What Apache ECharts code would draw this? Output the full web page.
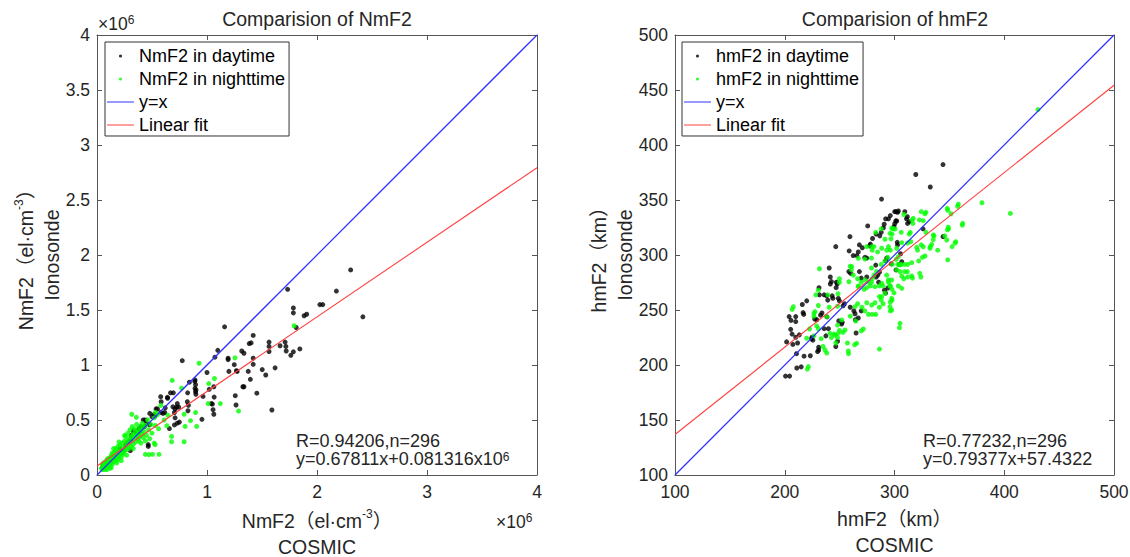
<!DOCTYPE html>
<html>
<head>
<meta charset="utf-8">
<script src="https://cdn.jsdelivr.net/npm/echarts@6/dist/echarts.min.js"></script>
<style>
  html, body { margin: 0; padding: 0; background: #fff; }
  #chart { width: 1130px; height: 557px; }
</style>
</head>
<body>
<div id="chart"></div>
<script>
// ---------------- DATA ----------------
// Left panel: NmF2 in units of 10^6 el/cm^3 (COSMIC x, Ionosonde y)
const nmTicksX = [0, 1, 2, 3, 4];
const nmTicksY = [0, 0.5, 1, 1.5, 2, 2.5, 3, 3.5, 4];
const nmDay = [
  [2.306,1.864],[2.176,1.672],[2.417,1.438],[1.733,1.688],[2.026,1.549],[2.052,1.549],[1.785,1.519],[1.785,1.474],
  [1.883,1.448],[1.906,1.461],[1.811,1.341],[1.160,1.347],[1.420,1.269],[1.384,1.195],[1.401,1.201],[1.564,1.208],
  [1.564,1.169],[1.564,1.123],[1.664,1.175],[1.710,1.208],[1.717,1.169],[1.720,1.127],[1.762,1.088],[1.785,1.120],
  [1.844,1.146],[1.316,1.127],[1.336,1.107],[1.420,1.062],[1.420,1.006],[1.192,1.062],[1.192,1.049],[1.098,1.133],
  [1.072,1.071],[1.248,1.003],[1.267,0.948],[1.274,0.942],[1.199,0.942],[1.375,0.942],[1.502,0.958],[1.619,0.974],
  [1.534,0.909],[1.394,0.870],[1.326,0.802],[1.336,0.802],[1.453,0.744],[1.590,0.591],[1.257,0.721],[1.264,0.636],
  [1.062,0.802],[1.020,0.779],[1.065,0.708],[1.039,0.649],[1.049,0.645],[1.062,0.552],[1.055,0.594],[1.000,0.932],
  [0.954,0.506],[0.964,0.714],[0.889,0.851],[0.896,0.821],[0.896,0.756],[0.899,0.734],[0.840,0.844],[0.775,1.039],
  [0.824,0.747],[0.821,0.666],[0.831,0.633],[0.827,0.584],[0.730,0.649],[0.723,0.617],[0.743,0.617],[0.704,0.568],
  [0.730,0.471],[0.704,0.455],[0.749,0.481],[0.668,0.747],[0.694,0.747],[0.642,0.698],[0.616,0.568],[0.658,0.422],
  [0.583,0.666],[0.537,0.601],[0.528,0.536],[0.479,0.455],[0.466,0.276],[0.466,0.260],[0.430,0.438],[0.384,0.390],
  [0.368,0.406],[0.352,0.390],[0.309,0.325],[0.303,0.221],[0.891,0.864],[0.891,0.788],[0.900,0.773],[0.579,0.712],
  [0.640,0.706],[0.55,0.60],[0.52,0.55],[0.50,0.53],[0.45,0.47],[0.42,0.50],[0.40,0.44],[0.38,0.42],[0.36,0.38],
  [0.33,0.40],[0.31,0.36],[0.28,0.30],[0.26,0.27],[0.24,0.22],[0.21,0.24],[0.18,0.19],[0.15,0.16],[0.12,0.13],
  [0.09,0.11],[0.07,0.08],[0.05,0.07],[0.06,0.09],[0.11,0.10],[0.44,0.50],[0.48,0.56],[0.58,0.57],[0.62,0.61],
  [0.69,0.62],[0.71,0.60],[0.60,0.56],[0.71,0.52]
];
const nmNight = [
  [1.792,1.357],[1.254,1.065],[0.928,1.016],[1.068,0.877],[1.016,0.831],[0.684,0.860],[0.769,0.789],[1.121,0.649],
  [1.010,0.649],[1.287,0.581],[0.896,0.568],[0.792,0.552],[0.850,0.494],[0.906,0.442],[0.801,0.442],[0.635,0.448],
  [0.678,0.351],[0.678,0.302],[0.792,0.302],[0.564,0.188],[0.505,0.188],[0.472,0.185],[0.440,0.188],[0.528,0.276],
  [0.580,0.633],[0.531,0.568],[0.316,0.552],[0.358,0.524],[0.645,0.542],[0.52,0.29],[0.61,0.50],[0.56,0.42],
  [0.04,0.06],[0.05,0.05],[0.05,0.09],[0.06,0.07],[0.06,0.11],[0.07,0.05],[0.07,0.09],[0.08,0.07],[0.08,0.12],
  [0.09,0.09],[0.09,0.14],[0.10,0.08],[0.10,0.11],[0.10,0.15],[0.11,0.13],[0.11,0.09],[0.12,0.10],[0.12,0.16],
  [0.13,0.12],[0.13,0.18],[0.14,0.10],[0.14,0.14],[0.14,0.20],[0.15,0.12],[0.15,0.17],[0.16,0.15],[0.16,0.21],
  [0.17,0.13],[0.17,0.18],[0.17,0.24],[0.18,0.16],[0.18,0.21],[0.19,0.14],[0.19,0.19],[0.19,0.26],[0.20,0.17],
  [0.20,0.22],[0.21,0.19],[0.21,0.27],[0.22,0.16],[0.22,0.23],[0.23,0.20],[0.23,0.29],[0.24,0.25],[0.24,0.19],
  [0.25,0.22],[0.25,0.31],[0.26,0.26],[0.26,0.35],[0.27,0.23],[0.27,0.30],[0.28,0.27],[0.28,0.38],[0.29,0.24],
  [0.29,0.33],[0.30,0.29],[0.30,0.41],[0.31,0.26],[0.31,0.35],[0.32,0.32],[0.32,0.44],[0.33,0.37],[0.33,0.28],
  [0.34,0.34],[0.34,0.42],[0.35,0.30],[0.35,0.39],[0.36,0.36],[0.36,0.46],[0.37,0.33],[0.37,0.41],[0.38,0.38],
  [0.38,0.31],[0.39,0.44],[0.39,0.35],[0.40,0.40],[0.40,0.29],[0.41,0.37],[0.41,0.47],[0.42,0.34],[0.42,0.43],
  [0.43,0.39],[0.44,0.31],[0.44,0.45],[0.45,0.36],[0.46,0.50],[0.47,0.41],[0.48,0.33],[0.49,0.46],[0.50,0.38],
  [0.52,0.52],[0.53,0.45],[0.55,0.55],[0.22,0.13],[0.27,0.18],[0.33,0.24],[0.13,0.07],[0.18,0.11],[0.25,0.36],
  [0.20,0.30],[0.15,0.24],[0.09,0.05],[0.12,0.06]
];
const nmIdentity = [[0, 0], [4, 4]];
const nmFit = [[0, 0.0813], [4, 2.7938]];

// Right panel: hmF2 in km
const hmTicksX = [100, 200, 300, 400, 500];
const hmTicksY = [100, 150, 200, 250, 300, 350, 400, 450, 500];
const hmDay = [
  [344.2,382.2],[319.4,373.2],[332.6,361.8],[288.2,350.8],[326.0,323.8],[344.2,316.7],[300.2,339.4],[302.8,338.8],
  [309.4,339.4],[296.2,335.8],[310.9,332.9],[311.9,328.7],[301.2,331.0],[300.2,328.4],[291.9,332.9],[294.5,332.9],
  [290.6,328.0],[289.9,324.8],[287.9,320.6],[286.6,317.4],[283.3,319.0],[280.0,315.0],[275.6,326.4],[278.0,309.9],
  [277.3,308.3],[268.0,309.2],[267.0,302.8],[270.7,306.6],[259.4,316.7],[258.7,303.7],[246.5,307.6],[262.4,299.5],
  [265.7,299.5],[273.0,297.9],[274.7,297.2],[282.9,290.8],[292.9,297.2],[291.9,294.6],[302.8,309.2],[305.5,301.1],
  [304.5,291.4],[274.7,280.0],[269.7,279.0],[268.0,284.9],[284.6,281.7],[286.2,284.3],[258.4,284.9],[260.0,283.3],
  [290.9,268.0],[291.9,265.4],[283.3,280.0],[285.6,275.2],[240.5,288.2],[241.5,280.0],[241.5,273.6],[242.5,275.8],
  [247.1,275.2],[247.8,273.6],[246.8,270.3],[231.2,270.3],[235.9,263.8],[238.2,262.9],[239.2,259.0],[243.2,262.9],
  [243.8,260.6],[231.6,263.8],[220.0,258.3],[216.0,255.0],[248.8,260.6],[249.8,258.3],[254.4,255.7],[253.1,253.8],
  [259.7,252.5],[263.0,249.2],[264.0,246.6],[269.7,249.2],[216.7,247.6],[217.3,246.0],[232.6,245.3],[233.9,247.3],
  [227.3,241.8],[229.2,241.1],[238.5,243.7],[204.0,244.0],[210.0,244.0],[205.7,240.5],[210.0,239.5],[205.4,232.4],
  [206.7,228.1],[210.0,225.2],[213.3,227.4],[201.7,221.0],[207.4,218.7],[211.7,220.0],[224.9,225.2],[225.6,222.6],
  [230.9,216.1],[230.9,213.5],[229.9,212.2],[235.9,233.0],[239.8,233.0],[237.5,226.5],[249.2,240.1],[252.4,238.8],
  [251.8,237.2],[248.1,221.6],[265.0,229.1],[264.4,241.1],[267.0,242.7],[210.7,210.3],[217.6,208.0],[215.0,198.3],
  [223.3,208.4],[211.0,197.3],[200.7,189.9],[204.4,189.9],[246.5,216.8],[224.5,224.0],[294.0,270.0],[297.0,292.0],
  [301.3,339.4],[303.5,340.0],[311.7,334.8],[313.5,330.3],[302.0,330.9],[299.5,325.7],[302.5,311.5],[306.6,293.9],
  [301.4,286.4]
];
const hmNight = [
  [430.7,432.2],[405.6,337.8],[379.7,347.5],[357.5,344.3],[351.5,337.5],[348.5,340.7],[361.8,327.1],[349.2,323.8],
  [348.2,322.9],[355.2,310.9],[352.5,307.6],[348.5,295.6],[345.9,317.4],[336.0,317.4],[335.3,314.1],[332.6,307.6],
  [339.3,304.4],[327.7,337.5],[322.7,331.9],[328.7,320.6],[324.4,309.2],[321.0,304.4],[325.4,297.9],[322.0,294.6],
  [316.1,331.9],[316.7,328.7],[314.4,320.6],[313.4,319.0],[312.0,310.9],[308.5,336.8],[324.4,339.4],[306.1,320.6],
  [306.0,291.4],[309.0,291.4],[312.0,291.4],[303.0,291.4],[309.2,284.9],[305.0,284.9],[323.0,283.3],[324.1,280.0],
  [316.4,279.0],[312.0,280.0],[308.5,278.4],[298.0,291.4],[301.5,296.0],[298.8,323.8],[297.8,319.0],[296.8,314.8],
  [294.5,307.6],[296.2,304.4],[292.9,304.4],[293.9,297.9],[291.2,294.6],[287.9,323.8],[282.9,320.6],[281.3,307.6],
  [279.6,304.4],[284.6,302.8],[287.9,291.4],[283.6,284.9],[281.3,281.7],[279.6,278.4],[276.3,275.2],[278.0,271.9],
  [274.6,270.3],[272.3,268.7],[279.0,275.2],[286.2,271.9],[289.6,271.9],[292.9,281.7],[294.5,275.2],[296.2,271.9],
  [297.8,268.7],[299.5,265.5],[297.8,259.0],[296.2,257.3],[286.2,262.2],[287.9,259.0],[289.6,255.7],[286.2,252.5],
  [296.2,249.2],[282.9,246.0],[279.6,246.0],[276.3,246.0],[273.0,249.2],[270.3,252.5],[266.4,255.7],[305.0,237.9],
  [304.5,233.9],[286.3,214.5],[269.7,231.0],[263.7,218.4],[258.1,210.3],[257.1,220.0],[253.1,229.8],[249.8,231.4],
  [248.1,236.3],[259.7,244.4],[244.8,228.1],[242.5,224.9],[248.1,224.9],[246.5,220.0],[238.2,210.9],[234.9,216.8],
  [226.6,226.5],[230.6,233.0],[226.6,244.4],[226.6,247.0],[230.6,254.1],[228.3,263.8],[230.6,268.0],[231.6,287.5],
  [239.2,263.8],[240.5,252.5],[248.1,253.4],[248.5,264.8],[249.8,275.2],[249.8,278.4],[259.7,289.8],[260.7,286.5],
  [262.4,281.7],[266.4,278.4],[269.7,275.2],[267.0,271.9],[273.0,296.3],[274.7,307.6],[279.0,297.2],[279.0,288.2],
  [220.6,196.3],[206.7,250.5],[222.6,232.7],[233.2,223.9],[207.8,253.0],[236.7,213.6],[221.5,198.5],[257.9,212.7],
  [265.5,219.7],[271.6,232.7],[264.6,240.0],[248.8,228.8],[245.8,227.3],[254.9,231.8],[241.2,228.8],[220.0,224.3],
  [229.1,235.5],[238.2,243.9],[227.6,248.5],[251.9,240.9],[264.0,253.0],[274.7,256.6],[279.2,254.5],[282.2,256.6],
  [258.5,275.7],[261.0,289.4],[267.0,297.0],[279.2,307.5],[288.3,306.1],[291.3,314.3],[295.9,319.7],[297.4,324.3],
  [282.2,271.2],[288.3,274.3],[294.4,277.3],[288.3,262.1],[291.3,265.2],[295.9,253.0],[273.1,277.3],[267.0,271.2],
  [358.2,346.1],[348.1,342.4],[362.1,328.8],[349.0,325.2],[355.8,312.1],[347.6,313.6],[335.4,318.2],[333.9,309.7],
  [332.3,306.1],[326.2,307.5],[327.8,299.1],[320.2,307.0],[314.8,312.1],[317.1,333.3],[328.7,338.8],[326.2,331.2],
  [300.5,323.6],[306.6,311.2],[302.0,306.1],[303.5,298.5],[305.0,291.0],[315.7,293.0],[311.7,284.8],[315.7,280.9],
  [306.6,280.9],[297.4,277.3],[295.9,271.8],[303.5,271.8],[306.6,269.7],[297.4,260.6],[297.4,250.0],[302.0,286.4]
];
const hmIdentity = [[100, 100], [500, 500]];
const hmFit = [[100, 136.8], [500, 454.3]];

const leftNames = ['NmF2 in daytime', 'NmF2 in nighttime', 'y=x', 'Linear fit'];
const rightNames = ['hmF2 in daytime', 'hmF2 in nighttime', 'y=x', 'Linear fit'];

// ---------------- STYLE ----------------
const FONT = "'Liberation Sans', Arial, 'Noto Sans CJK SC', sans-serif";
const TXT = '#262626';
const AX = '#555555';
const BLUE = '#3030ff';
const RED = '#ff4040';
const GREEN = '#00ff00';
const BLACK = '#000000';

const dotIcon = 'path://M0,0 M27,14 M11.9,7 a1.6,1.6 0 1,0 3.2,0 a1.6,1.6 0 1,0 -3.2,0 Z';
const lineIcon = 'path://M0,0 M27,14 M0,6.5 L27,6.5 L27,7.5 L0,7.5 Z';

const grids = [
  { left: 97, top: 35, width: 440, height: 440, outerBoundsMode: 'none', containLabel: false },
  { left: 675, top: 35, width: 439, height: 440, outerBoundsMode: 'none', containLabel: false }
];

function nameRich() {
  return {
    a: { fontFamily: FONT, fontSize: 19.5, color: TXT, lineHeight: 26 },
    s: { fontFamily: FONT, fontSize: 12, color: TXT, lineHeight: 14, verticalAlign: 'top' }
  };
}

function xAxes(gi, ticks, name, nameGap) {
  const base = {
    type: 'value', gridIndex: gi,
    min: ticks[0], max: ticks[ticks.length - 1], interval: ticks[1] - ticks[0],
    splitLine: { show: false },
    axisLine: { show: true, onZero: false, lineStyle: { color: AX, width: 1 } },
    axisTick: { show: true, inside: true, length: 5, lineStyle: { color: AX } }
  };
  return [
    Object.assign({}, base, {
      position: 'bottom',
      axisLabel: { show: true, fontFamily: FONT, fontSize: 17.5, color: TXT, margin: 8 },
      name: name, nameLocation: 'middle', nameGap: nameGap,
      nameTextStyle: { rich: nameRich(), align: 'center' }
    }),
    Object.assign({}, base, { position: 'top', axisLabel: { show: false } })
  ];
}
function yAxes(gi, ticks, name, nameGap) {
  const base = {
    type: 'value', gridIndex: gi,
    min: ticks[0], max: ticks[ticks.length - 1], interval: ticks[1] - ticks[0],
    splitLine: { show: false },
    axisLine: { show: true, onZero: false, lineStyle: { color: AX, width: 1 } },
    axisTick: { show: true, inside: true, length: 5, lineStyle: { color: AX } }
  };
  return [
    Object.assign({}, base, {
      position: 'left',
      axisLabel: { show: true, fontFamily: FONT, fontSize: 17.5, color: TXT, margin: 7 },
      name: name, nameLocation: 'middle', nameGap: nameGap,
      nameTextStyle: { rich: nameRich(), align: 'center' }
    }),
    Object.assign({}, base, { position: 'right', axisLabel: { show: false } })
  ];
}

function seriesFor(xi, yi, names, day, night, ident, fit) {
  return [
    { name: names[0], type: 'scatter', xAxisIndex: xi, yAxisIndex: yi, data: day,
      symbol: 'circle', symbolSize: 5, itemStyle: { color: BLACK }, color: BLACK, silent: true },
    { name: names[1], type: 'scatter', xAxisIndex: xi, yAxisIndex: yi, data: night,
      symbol: 'circle', symbolSize: 5, itemStyle: { color: GREEN }, color: GREEN, silent: true },
    { name: names[2], type: 'line', xAxisIndex: xi, yAxisIndex: yi, data: ident, symbol: 'none',
      color: BLUE, lineStyle: { color: BLUE, width: 1.25 }, itemStyle: { color: BLUE }, silent: true },
    { name: names[3], type: 'line', xAxisIndex: xi, yAxisIndex: yi, data: fit, symbol: 'none',
      color: RED, lineStyle: { color: RED, width: 1.1 }, itemStyle: { color: RED }, silent: true }
  ];
}

function legendFor(names, left) {
  return {
    orient: 'vertical', left: left, top: 42,
    itemWidth: 27, itemHeight: 14, itemGap: 5,
    padding: [5, 4, 2, 2],
    borderColor: '#333333', borderWidth: 1, backgroundColor: '#ffffff',
    selectedMode: false,
    textStyle: { fontFamily: FONT, fontSize: 18, color: '#000000' },
    itemStyle: { borderWidth: 0 },
    data: [
      { name: names[0], icon: dotIcon },
      { name: names[1], icon: dotIcon },
      { name: names[2], icon: lineIcon },
      { name: names[3], icon: lineIcon }
    ]
  };
}

function txt(x, y, rich, text, align) {
  return {
    type: 'text', x: x, y: y, silent: true,
    style: { text: text, rich: rich, align: align || 'left', verticalAlign: 'middle',
             fontFamily: FONT, fill: TXT }
  };
}
const expRich = {
  a: { fontFamily: FONT, fontSize: 17.5, color: TXT, lineHeight: 20 },
  s: { fontFamily: FONT, fontSize: 12, color: TXT, lineHeight: 4, verticalAlign: 'top' }
};
const annRich = {
  a: { fontFamily: FONT, fontSize: 18, color: '#000000', lineHeight: 16 },
  s: { fontFamily: FONT, fontSize: 12, color: '#000000', lineHeight: 2, verticalAlign: 'top' }
};
const titleRich = { a: { fontFamily: FONT, fontSize: 19.5, color: '#111111', lineHeight: 24 } };

const chart = echarts.init(document.getElementById('chart'), null, { renderer: 'svg' });
chart.setOption({
  animation: false,
  backgroundColor: '#ffffff',
  grid: grids,
  xAxis: [].concat(
    xAxes(0, nmTicksX, '{a|NmF2（el·cm}{s|-3}{a|）}\n{a|COSMIC}', 33),
    xAxes(1, hmTicksX, '{a|hmF2（km）}\n{a|COSMIC}', 31)
  ),
  yAxis: [].concat(
    yAxes(0, nmTicksY, '{a|NmF2（el·cm}{s|-3}{a|）}\n{a|Ionosonde}', 32),
    yAxes(1, hmTicksY, '{a|hmF2（km）}\n{a|Ionosonde}', 37)
  ),
  legend: [legendFor(leftNames, 105), legendFor(rightNames, 682)],
  series: [].concat(
    seriesFor(0, 0, leftNames, nmDay, nmNight, nmIdentity, nmFit),
    seriesFor(2, 2, rightNames, hmDay, hmNight, hmIdentity, hmFit)
  ),
  graphic: [
    txt(317, 19, titleRich, '{a|Comparision of NmF2}', 'center'),
    txt(895, 19, titleRich, '{a|Comparision of hmF2}', 'center'),
    txt(98, 24, expRich, '{a|×10}{s|6}'),
    txt(496, 522, expRich, '{a|×10}{s|6}'),
    txt(296, 441, annRich, '{a|R=0.94206,n=296}'),
    txt(296, 459, annRich, '{a|y=0.67811x+0.081316x10}{s|6}'),
    txt(923, 441, annRich, '{a|R=0.77232,n=296}'),
    txt(923, 459, annRich, '{a|y=0.79377x+57.4322}')
  ]
});
</script>
</body>
</html>
